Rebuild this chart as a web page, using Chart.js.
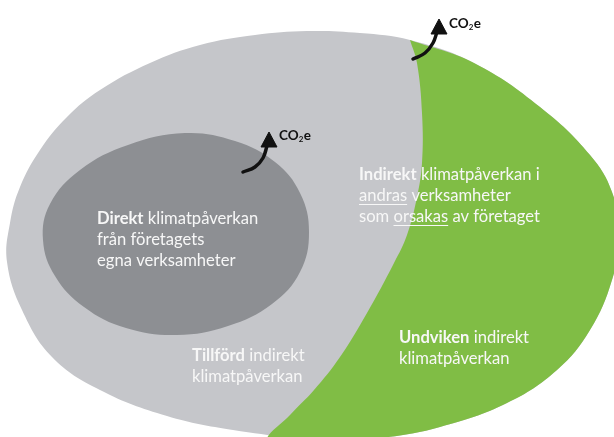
<!DOCTYPE html>
<html>
<head>
<meta charset="utf-8">
<script src="https://cdn.jsdelivr.net/npm/chart.js@4.4.1/dist/chart.umd.min.js"></script>
<style>
  html, body { margin: 0; padding: 0; background: #fff; }
  #wrap { width: 614px; height: 437px; position: relative; }
</style>
</head>
<body>
<div id="wrap"><canvas id="scopeChart"></canvas></div>
<script>
// Outline of the whole company footprint (light grey)
const outerRegion = [
  {x: 320, y: 441}, {x: 233, y: 430}, {x: 167, y: 416}, {x: 100, y: 390},
  {x: 52, y: 357}, {x: 22, y: 310}, {x: 7, y: 262}, {x: 10, y: 223},
  {x: 20, y: 187}, {x: 40, y: 150}, {x: 67, y: 117}, {x: 100, y: 90},
  {x: 150, y: 63}, {x: 200, y: 45}, {x: 255, y: 35}, {x: 307, y: 31},
  {x: 360, y: 33}, {x: 410, y: 40}, {x: 474, y: 63}, {x: 540, y: 107},
  {x: 590, y: 155}, {x: 612, y: 192}, {x: 619, y: 235}, {x: 612, y: 280},
  {x: 590, y: 330}, {x: 557, y: 370}, {x: 507, y: 403}, {x: 440, y: 427},
  {x: 380, y: 438}, {x: 320, y: 441}
];

// Avoided indirect impact (green part)
const avoidedRegion = [
  {x: 410, y: 40}, {x: 417, y: 63}, {x: 422, y: 113}, {x: 422, y: 163},
  {x: 417, y: 197}, {x: 407, y: 235}, {x: 394, y: 263}, {x: 367, y: 313},
  {x: 340, y: 357}, {x: 314, y: 390}, {x: 290, y: 415}, {x: 268, y: 440},
  {x: 320, y: 441}, {x: 380, y: 438}, {x: 440, y: 427}, {x: 507, y: 403},
  {x: 557, y: 370}, {x: 590, y: 330}, {x: 612, y: 280}, {x: 619, y: 235},
  {x: 612, y: 192}, {x: 590, y: 155}, {x: 540, y: 107}, {x: 474, y: 63},
  {x: 410, y: 40}
];

// Direct impact (dark grey ellipse); first and last points repeat neighbours
// so the closed curve has no corner where it starts
const directRegion = [
  {x: 128, y: 145},
  {x: 185, y: 133}, {x: 235, y: 141}, {x: 275, y: 162}, {x: 300, y: 193},
  {x: 309, y: 232}, {x: 300, y: 272}, {x: 272, y: 304}, {x: 228, y: 326},
  {x: 177, y: 335}, {x: 126, y: 328}, {x: 84, y: 307}, {x: 55, y: 276},
  {x: 43, y: 240}, {x: 50, y: 204}, {x: 80, y: 170}, {x: 128, y: 145},
  {x: 185, y: 133}, {x: 235, y: 141}
];

// CO2e arrows: shaft and head
const arrowShafts = [
  [{x: 243, y: 172}, {x: 255, y: 167}, {x: 263, y: 158}, {x: 267, y: 146}],
  [{x: 413, y: 59}, {x: 425, y: 53}, {x: 433, y: 43}, {x: 437, y: 32}]
];
const arrowHeads = [
  [{x: 269, y: 132}, {x: 261, y: 147}, {x: 277, y: 147}, {x: 269, y: 132}],
  [{x: 439, y: 19}, {x: 431, y: 34}, {x: 447, y: 34}, {x: 439, y: 19}]
];

// Text labels: each line is a list of [text, bold, underline]
const regionLabels = [
  {x: 97, y: 224, lines: [
    [['Direkt', true], [' klimatpåverkan']],
    [['från företagets']],
    [['egna verksamheter']]
  ]},
  {x: 359, y: 180, lines: [
    [['Indirekt', true], [' klimatpåverkan i']],
    [['andras', false, true], [' verksamheter']],
    [['som '], ['orsakas', false, true], [' av företaget']]
  ]},
  {x: 192, y: 361, lines: [
    [['Tillförd', true], [' indirekt']],
    [['klimatpåverkan']]
  ]},
  {x: 399, y: 343, lines: [
    [['Undviken', true], [' indirekt']],
    [['klimatpåverkan']]
  ]}
];
const co2Labels = [
  {x: 279, y: 140},
  {x: 449, y: 28}
];

const FONT = 'Lato, "Open Sans", sans-serif';

const textPlugin = {
  id: 'regionText',
  afterDatasetsDraw(chart) {
    const ctx = chart.ctx;
    const xs = chart.scales.x, ys = chart.scales.y;
    ctx.save();
    ctx.textBaseline = 'alphabetic';
    ctx.fillStyle = '#f7f7f7';
    ctx.strokeStyle = '#f7f7f7';
    ctx.lineWidth = 1;
    regionLabels.forEach(lbl => {
      const x0 = xs.getPixelForValue(lbl.x);
      lbl.lines.forEach((line, i) => {
        const y = ys.getPixelForValue(lbl.y) + i * 21;
        let x = x0;
        line.forEach(([txt, bold, under]) => {
          ctx.font = (bold ? 'bold ' : '') + '16.6px ' + FONT;
          ctx.fillText(txt, x, y);
          const w = ctx.measureText(txt).width;
          if (under) {
            ctx.beginPath();
            ctx.moveTo(x, y + 3.5);
            ctx.lineTo(x + w, y + 3.5);
            ctx.stroke();
          }
          x += w;
        });
      });
    });
    // CO2e with subscript
    ctx.fillStyle = '#111';
    co2Labels.forEach(c => {
      let x = xs.getPixelForValue(c.x);
      const y = ys.getPixelForValue(c.y);
      ctx.font = 'bold 13.5px ' + FONT;
      ctx.fillText('CO', x, y);
      x += ctx.measureText('CO').width;
      ctx.font = 'bold 8px ' + FONT;
      ctx.fillText('2', x, y + 2);
      x += ctx.measureText('2').width + 0.5;
      ctx.font = 'bold 13.5px ' + FONT;
      ctx.fillText('e', x, y);
    });
    ctx.restore();
  }
};

// lower order is drawn on top
const shape = (data, color, order) => ({
  data: data,
  order: order,
  showLine: true,
  fill: 'shape',
  backgroundColor: color,
  borderWidth: 0,
  pointRadius: 0,
  tension: 0.4
});

const datasets = [
  shape(outerRegion, '#c5c6ca', 5),
  shape(avoidedRegion, '#80bd45', 4),
  shape(directRegion, '#8d8f93', 3)
];
arrowShafts.forEach(s => datasets.push({
  data: s, order: 2, showLine: true, fill: false, borderColor: '#111',
  borderWidth: 3.5, pointRadius: 0, tension: 0.4, borderCapStyle: 'round'
}));
arrowHeads.forEach(h => datasets.push({
  data: h, order: 1, showLine: true, fill: 'shape', backgroundColor: '#111',
  borderColor: '#111', borderWidth: 1, pointRadius: 0, tension: 0
}));

new Chart(document.getElementById('scopeChart'), {
  type: 'scatter',
  data: { datasets },
  options: {
    responsive: true,
    maintainAspectRatio: false,
    animation: false,
    layout: { padding: 0 },
    plugins: { legend: { display: false }, tooltip: { enabled: false } },
    scales: {
      x: { type: 'linear', min: 0, max: 614, display: false },
      y: { type: 'linear', min: 0, max: 437, reverse: true, display: false }
    }
  },
  plugins: [textPlugin]
});
</script>
</body>
</html>
